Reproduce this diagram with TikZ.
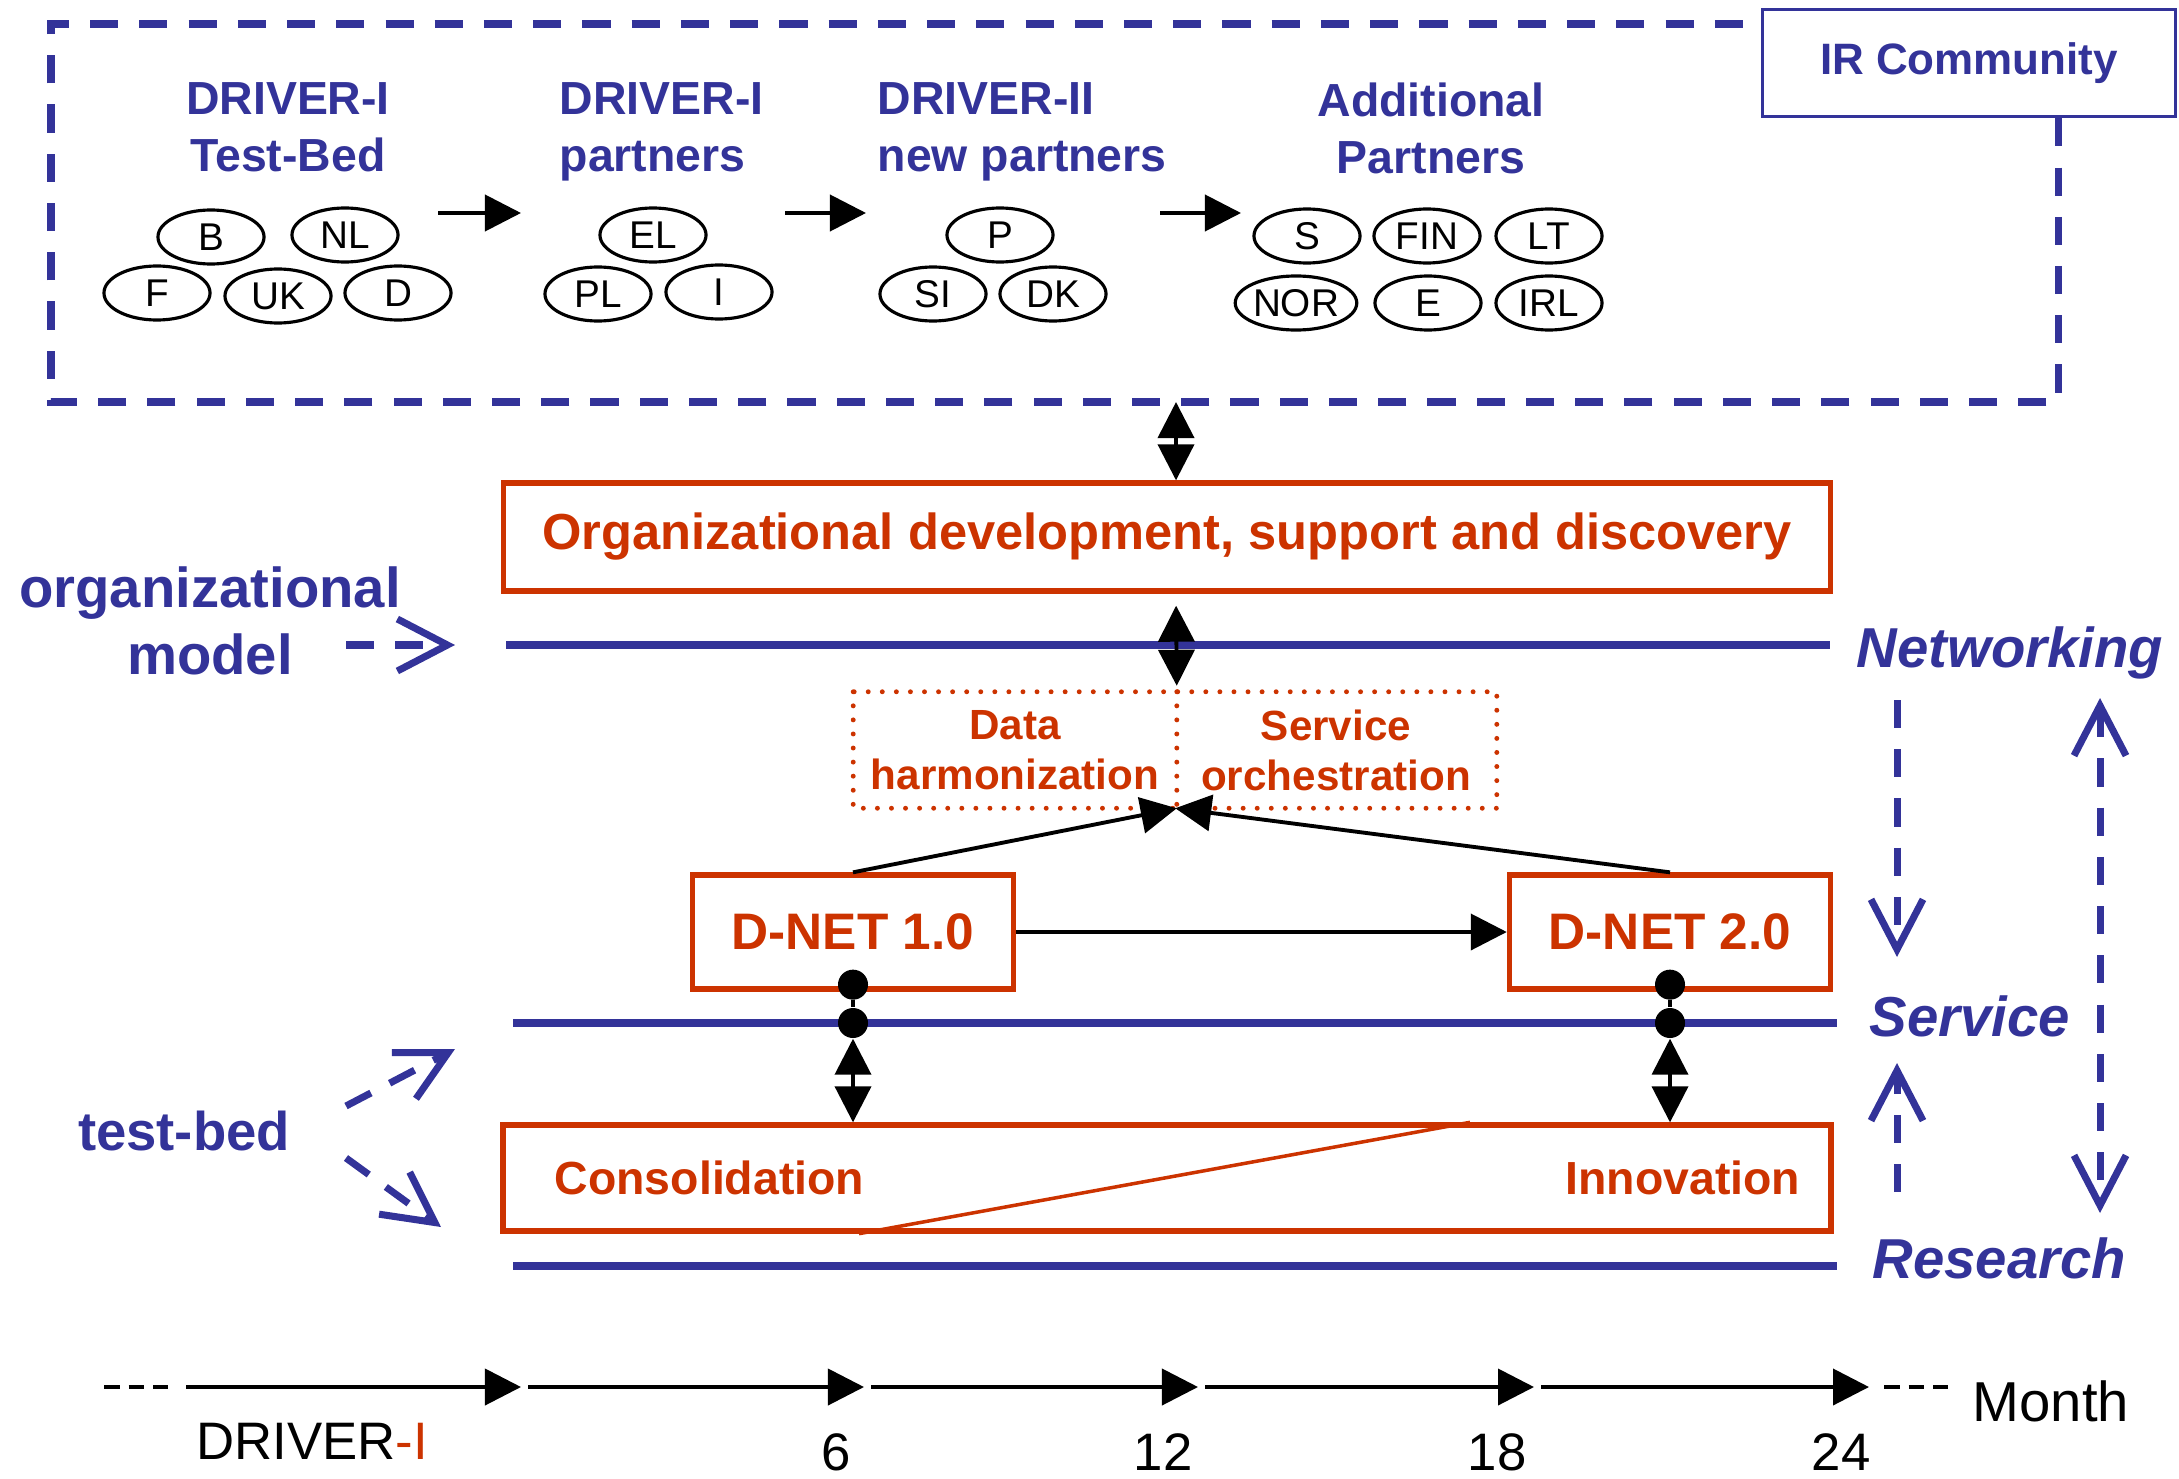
\documentclass[tikz,border=0pt]{standalone}
\usepackage{fontspec}
\setmainfont{Liberation Sans}
\usepackage{tikz}
\usetikzlibrary{arrows.meta,shapes.geometric,positioning}
\definecolor{irblue}{RGB}{51,51,153}
\definecolor{drred}{RGB}{204,51,0}

\begin{document}
\begin{tikzpicture}[x=0.01cm,y=-0.01cm,
  hdr/.style={text=irblue,font=\fontsize{13.2}{16.2}\selectfont\bfseries,inner sep=0pt},
  ctry/.style={ellipse,draw,line width=0.9pt,minimum width=1.06cm,minimum height=0.54cm,inner sep=0pt,font=\fontsize{11}{13}\selectfont},
  grpto/.style={line width=1.1pt,-{Triangle[length=0.36cm,width=0.36cm]}},
  twoway/.style={line width=1.1pt,{Triangle[length=0.36cm,width=0.36cm]}-{Triangle[length=0.36cm,width=0.36cm]}},
  redbox/.style={draw=drred,line width=1.5pt,text=drred,inner sep=0pt},
  redtxt/.style={text=drred,font=\fontsize{13.2}{16}\selectfont\bfseries,inner sep=0pt},
  dotline/.style={draw=drred,line width=1.4pt,line cap=round,dash pattern=on 0pt off 4pt},
  lane/.style={draw=irblue,line width=2.3pt},
  lanelbl/.style={text=irblue,font=\fontsize{16}{19}\selectfont\bfseries\itshape,inner sep=0pt},
  bluelbl/.style={text=irblue,font=\fontsize{16}{19}\selectfont\bfseries,inner sep=0pt,align=center},
  bluedash/.style={draw=irblue,line width=2pt,dash pattern=on 8pt off 6pt,-{Straight Barb[length=0.5cm,width=0.52cm]}},
  joint/.style={circle,fill,inner sep=0pt,minimum size=0.3cm},
  tline/.style={line width=1.1pt,-{Triangle[length=0.36cm,width=0.36cm]}},
  tdash/.style={line width=1.1pt,dash pattern=on 4.5pt off 2.5pt},
  tlbl/.style={font=\fontsize{15}{18}\selectfont,inner sep=0pt}]

\useasboundingbox (0,0) rectangle (2179,1479);

% IR community
\node [draw=irblue,line width=1pt,text=irblue,font=\fontsize{12.5}{15}\selectfont\bfseries,minimum width=4.13cm,minimum height=1.07cm] (ir) at (1969,63) {IR Community};
\draw [draw=irblue,line width=2pt,dash pattern=on 8pt off 6pt] (ir.south -| 2058,0) |- (51,402) |- (ir.west |- 0,24);

% partner groups
\node [hdr,align=center,anchor=north] (tbed) at (288,82) {DRIVER-I\\Test-Bed};
\node [hdr,align=left,anchor=north west] (dr1) at (559,82) {DRIVER-I\\partners};
\node [hdr,align=left,anchor=north west] (dr2) at (877,82) {DRIVER-II\\new partners};
\node [hdr,align=center,anchor=north] (addp) at (1431,82) {Additional\\Partners};

\foreach \nm/\x/\y/\txt in {b/211/237/B, nl/345/235/NL, f/157/293/F, uk/278/296/UK, d/398/293/D,
  el/653/235/EL, pl/598/294/PL, i/719/292/I,
  p/1000/235/P, si/933/294/SI, dk/1053/294/DK,
  s/1307/236/S, fin/1427/236/FIN, lt/1549/236/LT, nor/1296/303/NOR, e/1428/303/E, irl/1549/303/IRL}
  \node [ctry] (\nm) at (\x,\y) {\txt};

\foreach \n/\xa/\xb in {1/438/521, 2/785/866, 3/1160/1241}
{
\coordinate (gs\n) at (\xa,213);
\coordinate (ge\n) at (\xb,213);
\draw [grpto] (gs\n) -- (ge\n);
}

% organizational level
\coordinate (hub) at (1176,402);
\node [redbox,font=\fontsize{14.4}{17}\selectfont\bfseries,minimum width=13.26cm,minimum height=1.08cm] (org) at (1167,537) {Organizational development, support and discovery};
\draw [twoway] (hub) -- (org.north -| hub);

% lanes
\coordinate (netL) at (506,645);  \coordinate (netR) at (1830,645);
\coordinate (srvL) at (513,1023); \coordinate (srvR) at (1837,1023);
\coordinate (resL) at (513,1266); \coordinate (resR) at (1837,1266);
\draw [lane] (netL) -- (netR);
\draw [lane] (srvL) -- (srvR);
\draw [lane] (resL) -- (resR);
\node [lanelbl,anchor=base west] (net) at (1856,667) {Networking};
\node [lanelbl,anchor=base west] (srv) at (1869,1036) {Service};
\node [lanelbl,anchor=base west] (res) at (1872,1278) {Research};

% harmonization / orchestration
\node [redtxt,font=\fontsize{12}{14.2}\selectfont\bfseries,align=center,minimum width=3.22cm,minimum height=1.15cm] (data) at (1015,750) {Data\\harmonization};
\node [redtxt,font=\fontsize{12}{14.2}\selectfont\bfseries,align=center,minimum width=3.20cm,minimum height=1.15cm] (orch) at (1336,750) {Service\\orchestration};
\draw [dotline] (data.north west) rectangle (orch.south east);
\draw [dotline] (data.north east) -- (data.south east);
\draw [twoway,shorten <=0.12cm,shorten >=0.06cm] (org.south -| hub) -- (data.north east);

% D-NET releases
\node [redbox,font=\fontsize{14.6}{17}\selectfont\bfseries,minimum width=3.21cm,minimum height=1.14cm] (dnet1) at (853,932) {D-NET 1.0};
\node [redbox,font=\fontsize{14.6}{17}\selectfont\bfseries,minimum width=3.21cm,minimum height=1.14cm] (dnet2) at (1670,932) {D-NET 2.0};
\draw [grpto] (dnet1) -- (dnet2);
\draw [grpto] (dnet1.north) -- (data.south east);
\draw [grpto] (dnet2.north) -- (orch.south west);

% consolidation / innovation
\node [redbox,minimum width=13.27cm,minimum height=1.06cm] (cons) at (1167,1178) {};
\draw [drred,line width=1pt] (cons.south -| 859,0) -- (cons.north -| 1470,0);
\node [redtxt,anchor=west] (consl) at (554,1178) {Consolidation};
\node [redtxt,anchor=east] (innl) at (1801,1178) {Innovation};

\foreach \n in {1,2}
{
\node [joint] (ja\n) at ([yshift=0.07cm]dnet\n.south) {};
\node [joint] (jb\n) at (dnet\n.south |- srvL) {};
\draw [line width=1.1pt] (ja\n) -- (jb\n);
\draw [twoway] (jb\n) -- (cons.north -| jb\n);
}

% right side
\coordinate (nsA) at (1897,700);  \coordinate (nsB) at (1897,957);
\coordinate (rsA) at (1897,1192); \coordinate (rsB) at (1897,1063);
\coordinate (nrA) at (2100,698);  \coordinate (nrB) at (2100,1213);
\draw [bluedash] (nsA) -- (nsB);
\draw [bluedash] (rsA) -- (rsB);
\draw [bluedash,{Straight Barb[length=0.5cm,width=0.52cm]}-{Straight Barb[length=0.5cm,width=0.52cm]}] (nrA) -- (nrB);

% left side
\node [bluelbl,anchor=north] (orgm) at (210,566) {organizational\\model};
\coordinate (omA) at (346,645); \coordinate (omB) at (455,645);
\draw [bluedash] (omA) -- (omB);
\node [bluelbl,font=\fontsize{15.5}{19}\selectfont\bfseries] (tbd) at (184,1131) {test-bed};
\coordinate (tbA) at (346,1106); \coordinate (tbB) at (455,1049);
\coordinate (tbC) at (346,1158); \coordinate (tbD) at (441,1227);
\draw [bluedash] (tbA) -- (tbB);
\draw [bluedash] (tbC) -- (tbD);

% time line
\coordinate (mpre) at (104,1387);
\coordinate (mstart) at (186,1387);
\coordinate (mpost) at (1948,1387);
\foreach \n/\x in {0/521, 6/864, 12/1198, 18/1534, 24/1869}
  \coordinate (m\n) at (\x,1387);
\draw [tdash] (mpre) -- ([xshift=-0.18cm]mstart);
\draw [tline] (mstart) -- (m0);
\foreach \a/\b in {0/6, 6/12, 12/18, 18/24}
  \draw [tline] ([xshift=0.07cm]m\a) -- (m\b);
\draw [tdash] ([xshift=0.15cm]m24) -- (mpost);
\node [tlbl] (drv) at (312,1441) {DRIVER\textcolor{drred}{-I}};
\foreach \n/\x in {6/836, 12/1163, 18/1497, 24/1841}
  \node [tlbl] (n\n) at (\x,1452) {\n};
\node [tlbl,font=\fontsize{16}{19}\selectfont] (mon) at (2051,1401) {Month};
\end{tikzpicture}
\end{document}
